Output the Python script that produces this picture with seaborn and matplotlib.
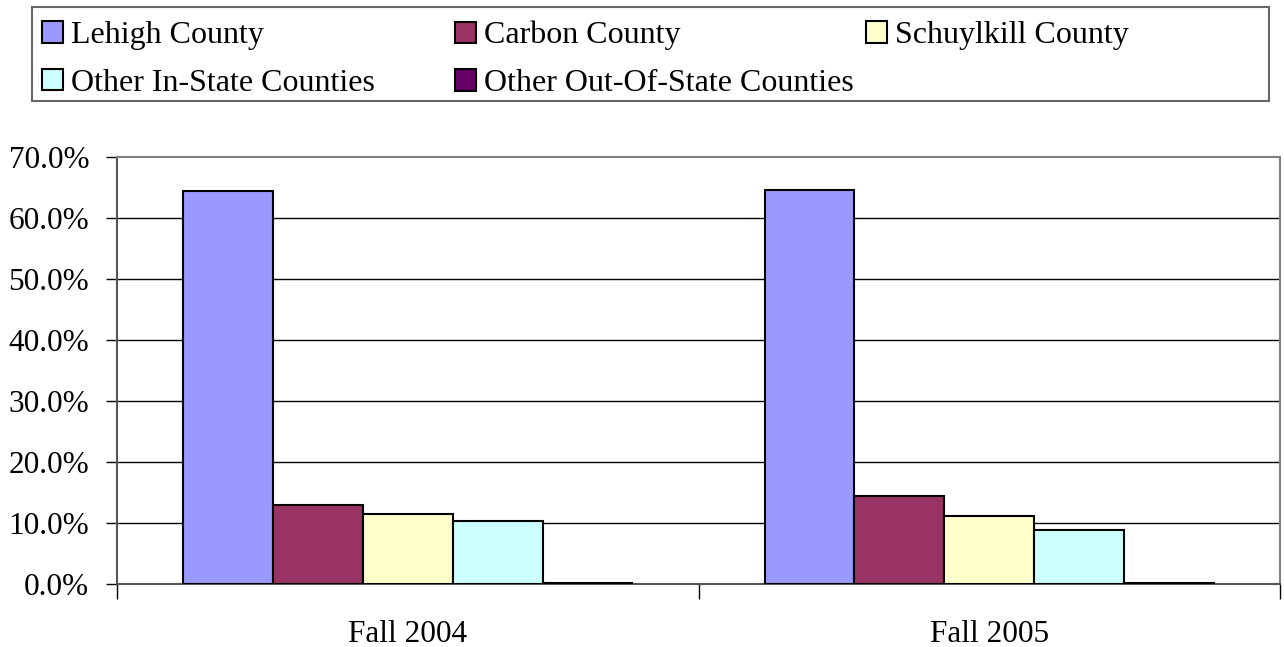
import matplotlib
matplotlib.use("Agg")
import matplotlib.pyplot as plt
from matplotlib.patches import Patch, Rectangle
from matplotlib.ticker import FixedLocator, FuncFormatter
import seaborn as sns
import pandas as pd

terms = ["Fall 2004", "Fall 2005"]
regions = ["Lehigh County", "Carbon County", "Schuylkill County",
           "Other In-State Counties", "Other Out-Of-State Counties"]
lehigh = [64.4, 64.6]
carbon = [13.0, 14.4]
schuylkill = [11.5, 11.2]
other_in = [10.3, 8.9]
other_out = [0.2, 0.2]
colors = ["#9999FF", "#993366", "#FFFFCC", "#CCFFFF", "#660066"]
yticks = [0, 10, 20, 30, 40, 50, 60, 70]

series = [lehigh, carbon, schuylkill, other_in, other_out]
rows = []
for reg, vals in zip(regions, series):
    for t, v in zip(terms, vals):
        rows.append({"term": t, "region": reg, "pct": v})
df = pd.DataFrame(rows)

sns.set_theme(style="white")
plt.rcParams["font.family"] = ["Liberation Serif", "DejaVu Serif"]

W, H = 1284, 647
fig = plt.figure(figsize=(W / 100, H / 100), dpi=100)
ax = fig.add_axes([117 / W, 1 - 584 / H, (1280 - 117) / W, (584 - 157) / H])

sns.barplot(data=df, x="term", y="pct", hue="region", order=terms,
            hue_order=regions, palette=colors, width=0.773, gap=0,
            edgecolor="black", linewidth=1.5, saturation=1, ax=ax,
            legend=False, zorder=3)

ax.set_xlim(-0.5, 1.5)
ax.set_ylim(0, 70)
ax.set_xlabel("")
ax.set_ylabel("")
ax.yaxis.set_major_locator(FixedLocator(yticks))
ax.yaxis.set_major_formatter(FuncFormatter(lambda v, p: f"{v:.1f}%"))
ax.tick_params(axis="y", which="major", length=8, width=1, color="black",
               labelsize=22.5, pad=12, left=True)
ax.xaxis.set_major_locator(FixedLocator([-0.5, 0.5, 1.5]))
ax.xaxis.set_minor_locator(FixedLocator([0, 1]))
ax.set_xticklabels(["", "", ""])
ax.set_xticklabels(terms, minor=True)
ax.tick_params(axis="x", which="major", length=11, width=1, color="black",
               bottom=True)
ax.tick_params(axis="x", which="minor", length=0, labelsize=22.5, pad=26,
               bottom=True)
for lab in ax.get_yticklabels() + ax.get_xticklabels(minor=True):
    lab.set_color("black")

ax.grid(False)
for v in yticks[1:-1]:
    ax.axhline(v, color="black", linewidth=1, zorder=1)

for s in ["top", "right"]:
    ax.spines[s].set_color("#808080")
    ax.spines[s].set_linewidth(1.5)
for s in ["left", "bottom"]:
    ax.spines[s].set_color("#555555")
    ax.spines[s].set_linewidth(1.5)

# Legend (row-major layout in three columns)
handles = [Patch(facecolor=c, edgecolor="black", linewidth=1.5) for c in colors]
cols = [[0, 3], [1, 4], [2]]
col_x = [42, 455, 866]
for xs, idx in zip(col_x, cols):
    leg = fig.legend([handles[i] for i in idx], [regions[i] for i in idx],
                     loc="upper left", bbox_to_anchor=(xs / W, 1 - 21 / H),
                     bbox_transform=fig.transFigure, frameon=False,
                     borderpad=0, borderaxespad=0, fontsize=23,
                     handlelength=0.66, handleheight=0.66, handletextpad=0.24,
                     labelspacing=0.58)
    for t in leg.get_texts():
        t.set_color("black")

fig.patches.append(Rectangle((32 / W, 1 - 101 / H), (1269 - 32) / W, (101 - 7) / H,
                             transform=fig.transFigure, fill=False,
                             edgecolor="#666666", linewidth=1.5))

fig.savefig("out.png", dpi=100, facecolor="white")
